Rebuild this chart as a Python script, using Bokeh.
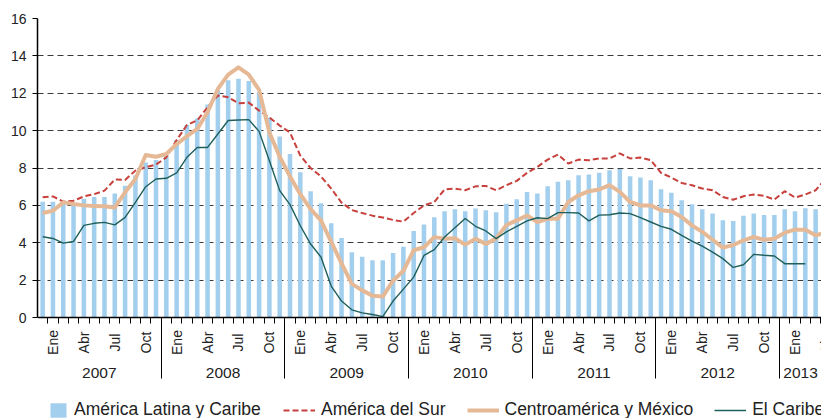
import numpy as np
from bokeh.plotting import figure
from bokeh.models import (Range1d, FixedTicker, Legend, LegendItem, Grid, Span,
                          ColumnDataSource, LabelSet)
from bokeh.core.properties import value
from bokeh.embed import file_html
from bokeh.resources import INLINE

# ---- data (monthly, Jan 2007 onwards) ----
latam = [6.2, 6.2, 6.12, 6.05, 6.36, 6.45, 6.45, 6.64, 7.05, 7.6, 8.3, 8.43,
         8.64, 9.5, 10.3, 10.65, 11.4, 12.2, 12.7, 12.77, 12.66, 12.05, 10.7, 9.68,
         8.75, 7.77, 6.75, 6.12, 5.05, 4.25, 3.49, 3.25, 3.06, 3.06, 3.45, 3.79,
         4.63, 4.97, 5.36, 5.68, 5.79, 5.68, 5.83, 5.74, 5.63, 6.09, 6.33, 6.72,
         6.63, 7.02, 7.26, 7.35, 7.61, 7.65, 7.74, 7.88, 7.94, 7.56, 7.49, 7.35,
         6.86, 6.67, 6.27, 6.06, 5.79, 5.56, 5.2, 5.17, 5.45, 5.56, 5.49, 5.49,
         5.79, 5.68, 5.84, 5.79, 5.8]
sur = [6.43, 6.48, 6.2, 6.25, 6.48, 6.6, 6.79, 7.38, 7.36, 7.86, 8.04, 8.18,
       8.57, 9.5, 10.3, 10.55, 11.25, 11.88, 11.79, 11.46, 11.5, 11.07, 10.7, 10.27,
       9.9, 8.66, 8.0, 7.55, 6.9, 6.15, 5.75, 5.59, 5.45, 5.35, 5.22, 5.13,
       5.59, 6.0, 6.18, 6.85, 6.9, 6.81, 7.02, 7.04, 6.81, 7.08, 7.31, 7.74,
       8.06, 8.45, 8.72, 8.24, 8.45, 8.42, 8.51, 8.51, 8.78, 8.51, 8.56, 8.42,
       7.74, 7.49, 7.2, 7.08, 6.9, 6.81, 6.45, 6.3, 6.49, 6.58, 6.51, 6.31,
       6.76, 6.42, 6.58, 6.81, 7.45]
centro = [5.59, 5.71, 6.16, 6.07, 6.0, 5.97, 5.95, 5.89, 6.7, 7.41, 8.7, 8.6,
          8.75, 9.28, 9.7, 10.09, 10.98, 12.23, 13.0, 13.39, 13.0, 12.18, 9.9, 8.6,
          7.55, 6.6, 5.8, 5.2, 4.05, 2.9, 1.8, 1.45, 1.17, 1.12, 1.97, 2.5,
          3.6, 3.76, 4.3, 4.22, 4.24, 3.9, 4.21, 3.94, 4.22, 4.95, 5.2, 5.46,
          5.1, 5.28, 5.29, 6.18, 6.54, 6.76, 6.85, 7.08, 6.72, 6.18, 6.0, 6.0,
          5.74, 5.68, 5.38, 4.93, 4.58, 4.16, 3.74, 3.88, 4.13, 4.31, 4.16, 4.22,
          4.54, 4.7, 4.7, 4.4, 4.55]
caribe = [4.32, 4.23, 3.98, 4.07, 4.93, 5.04, 5.09, 4.96, 5.36, 6.16, 7.0, 7.41,
          7.45, 7.74, 8.57, 9.1, 9.1, 9.82, 10.54, 10.57, 10.59, 9.96, 8.39, 6.79,
          6.04, 4.91, 3.93, 3.24, 1.68, 0.88, 0.41, 0.25, 0.16, 0.05, 0.88, 1.52,
          2.16, 3.32, 3.63, 4.31, 4.8, 5.3, 4.88, 4.63, 4.22, 4.58, 4.88, 5.17,
          5.34, 5.29, 5.61, 5.61, 5.59, 5.17, 5.48, 5.5, 5.59, 5.56, 5.34, 5.11,
          4.88, 4.72, 4.4, 4.09, 3.82, 3.5, 3.15, 2.68, 2.82, 3.38, 3.33, 3.29,
          2.88, 2.88, 2.88]
years = ["2007", "2008", "2009", "2010", "2011", "2012", "2013"]
month_labels = ["Ene", "Abr", "Jul", "Oct"]
month_label_offsets = [0, 3, 6, 9]
y_ticks = [0, 2, 4, 6, 8, 10, 12, 14, 16]

FONT = "Liberation Sans"
TXT = "#222222"

# ---- layout constants ----
PX_PER_UNIT = 18.6875          # vertical scale (px per percentage point)
BELOW_PX = 101                 # room under the zero line inside the frame
x0, x1 = -0.5, 75.57
y0 = -BELOW_PX / PX_PER_UNIT
SEP_LOW = -61 / PX_PER_UNIT    # year separators
TICK_LOW = -6 / PX_PER_UNIT    # month ticks

p = figure(width=821, height=418, output_backend="svg", toolbar_location=None,
           x_range=Range1d(x0, x1), y_range=Range1d(y0, 16),
           x_axis_type=None, min_border_left=37, min_border_right=0,
           min_border_top=18, min_border_bottom=0)
p.outline_line_color = None
p.background_fill_color = "white"
p.border_fill_color = "white"

# y axis
yax = p.yaxis[0]
yax.ticker = FixedTicker(ticks=y_ticks)
yax.bounds = (0, 16)
yax.minor_tick_line_color = None
yax.major_tick_out = 5
yax.major_tick_in = 0
yax.major_label_standoff = 6
yax.axis_line_color = "black"
yax.axis_line_width = 1.5
yax.major_tick_line_color = "black"
yax.major_label_text_font = FONT
yax.major_label_text_font_size = "14px"
yax.major_label_text_color = TXT
p.ygrid[0].ticker = FixedTicker(ticks=y_ticks[1:])
p.ygrid[0].grid_line_color = "#3a3a3a"
p.ygrid[0].grid_line_dash = "6 4"
p.ygrid[0].grid_line_width = 1

# category scale decorations under the zero line
n_years = len(years)
month_bounds = [k - 0.5 for k in range(0, 12 * n_years + 1)]
year_bounds = [12 * yi - 0.5 for yi in range(n_years + 1)]
p.add_layout(Grid(dimension=0, ticker=FixedTicker(ticks=month_bounds),
                  cross_bounds=(TICK_LOW, 0), grid_line_color="black",
                  grid_line_width=1))
p.add_layout(Grid(dimension=0, ticker=FixedTicker(ticks=year_bounds),
                  cross_bounds=(SEP_LOW, 0), grid_line_color="black",
                  grid_line_width=1))

# data glyphs
xs = np.arange(len(latam))
bars = p.vbar(x=xs, top=latam, bottom=0, width=0.44,
              fill_color="#a3cfee", line_color=None)
r_sur = p.line(np.arange(len(sur)), sur, line_color="#c8403c", line_width=2,
               line_dash="6 3")
r_cen = p.line(np.arange(len(centro)), centro, line_color="#e6b996", line_width=4,
               line_join="round")
r_car = p.line(np.arange(len(caribe)), caribe, line_color="#1f5f5b", line_width=1.4)

# zero line
p.add_layout(Span(location=0, dimension="width", line_color="black", line_width=1.5))

# month labels
lab_x, lab_t = [], []
for yi in range(n_years):
    for off, lab in zip(month_label_offsets, month_labels):
        pos = 12 * yi + off + 1
        if pos <= x1 + 1:
            lab_x.append(pos)
            lab_t.append(lab)
msrc = ColumnDataSource(dict(x=lab_x, y=[0] * len(lab_x), text=lab_t))
p.add_layout(LabelSet(x="x", y="y", text="text", source=msrc, angle=np.pi / 2,
                      text_align="center", text_baseline="middle", y_offset=-25,
                      text_font=value(FONT), text_font_size=value("14px"),
                      text_color=TXT))

# year labels (centred on the visible part of each year)
yr_x = []
for yi in range(n_years):
    a = 12 * yi - 0.5
    b = min(12 * yi + 11.5, x1)
    yr_x.append((a + b) / 2)
ysrc = ColumnDataSource(dict(x=yr_x, y=[0] * len(yr_x), text=years))
p.add_layout(LabelSet(x="x", y="y", text="text", source=ysrc,
                      text_align="center", text_baseline="middle", y_offset=-55,
                      text_font=value(FONT), text_font_size=value("15.5px"),
                      text_color=TXT))

# legends
common = dict(orientation="horizontal", padding=0, margin=0, border_line_color=None,
              background_fill_alpha=0, label_standoff=6, spacing=21,
              label_text_font=FONT, label_text_font_size="17.5px",
              label_text_color=TXT, glyph_height=18, label_height=18)
leg1 = Legend(items=[LegendItem(label="América Latina y Caribe", renderers=[bars])],
              location=(11, -2), glyph_width=20, **common)
leg2 = Legend(items=[LegendItem(label="América del Sur", renderers=[r_sur]),
                     LegendItem(label="Centroamérica y México", renderers=[r_cen]),
                     LegendItem(label="El Caribe", renderers=[r_car])],
              location=(246, -2), glyph_width=32, **common)
p.add_layout(leg1)
p.add_layout(leg2)

open("out.html", "w").write(file_html(p, INLINE))
